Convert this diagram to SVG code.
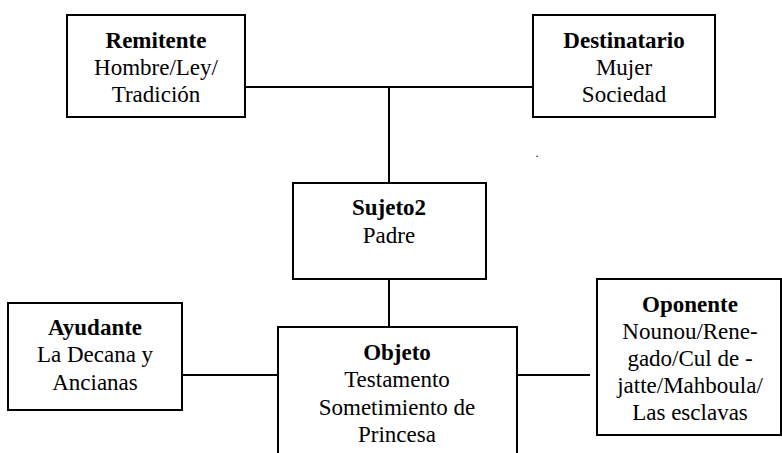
<svg xmlns="http://www.w3.org/2000/svg" width="782" height="453" viewBox="0 0 782 453" font-family="Liberation Serif, serif">
<style>
.box{fill:#fff;stroke:#000;stroke-width:2}
.ln{stroke:#000;stroke-width:2;fill:none}
text{font-size:23px;fill:#000;text-anchor:middle}
.b{font-weight:bold}
</style>
<rect width="782" height="453" fill="#fff"/>
<g id="connectors">
<line class="ln" x1="245" y1="87" x2="533" y2="87"/>
<line class="ln" x1="389" y1="87" x2="389" y2="183"/>
<line class="ln" x1="389" y1="279" x2="389" y2="327"/>
<line class="ln" x1="182" y1="375" x2="278" y2="375"/>
<line class="ln" x1="517" y1="375" x2="590" y2="375"/>
</g>
<g id="remitente">
<rect class="box" x="67" y="15" width="178" height="102"/>
<text x="156" y="48" class="b">Remitente</text>
<text x="156" y="75">Hombre/Ley/</text>
<text x="156" y="102">Tradición</text>
</g>
<g id="destinatario">
<rect class="box" x="533" y="15" width="182" height="102"/>
<text x="624" y="48" class="b">Destinatario</text>
<text x="624" y="75">Mujer</text>
<text x="624" y="102">Sociedad</text>
</g>
<text x="537" y="157" style="font-size:12px">.</text>
<g id="sujeto">
<rect class="box" x="293" y="183" width="193" height="96"/>
<text x="389" y="215" class="b">Sujeto2</text>
<text x="389" y="243">Padre</text>
</g>
<g id="ayudante">
<rect class="box" x="8" y="303" width="174" height="107"/>
<text x="95" y="335" class="b">Ayudante</text>
<text x="95" y="362">La Decana y</text>
<text x="95" y="390">Ancianas</text>
</g>
<g id="objeto">
<rect class="box" x="278" y="327" width="239" height="140"/>
<text x="397" y="360" class="b">Objeto</text>
<text x="397" y="387">Testamento</text>
<text x="397" y="415">Sometimiento de</text>
<text x="397" y="442">Princesa</text>
</g>
<g id="oponente">
<rect class="box" x="597" y="279" width="184" height="156"/>
<text x="690" y="312" class="b">Oponente</text>
<text x="690" y="339">Nounou/Rene-</text>
<text x="690" y="366">gado/Cul de -</text>
<text x="690" y="393">jatte/Mahboula/</text>
<text x="690" y="420">Las esclavas</text>
</g>
</svg>
